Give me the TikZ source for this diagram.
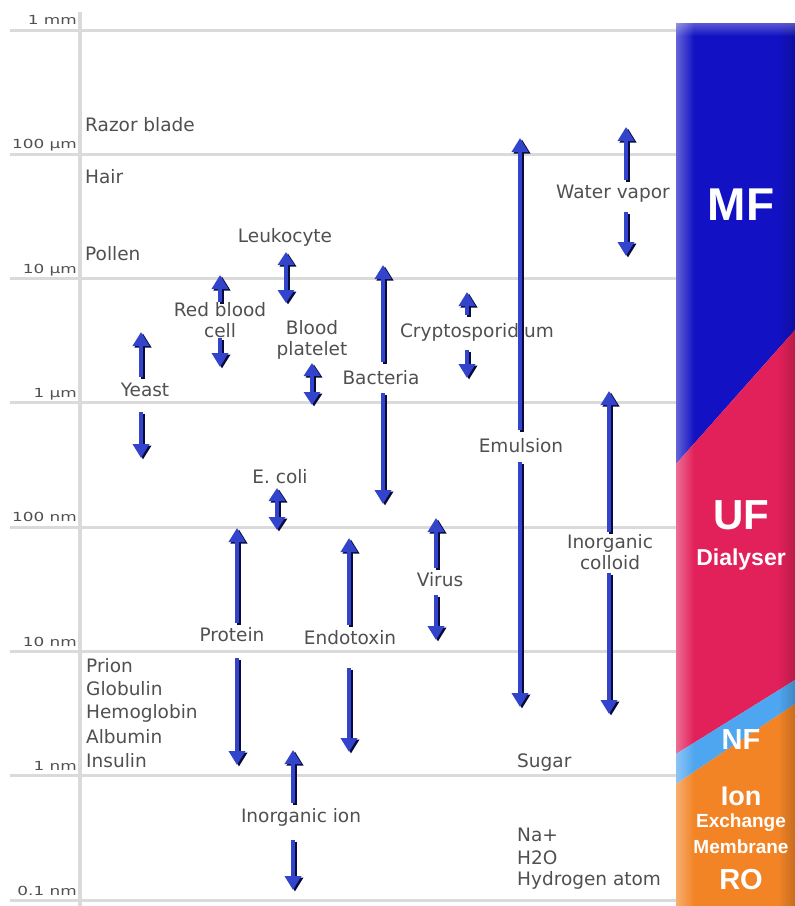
\documentclass[tikz,border=0pt]{standalone}
\usepackage{fontspec}
\setmainfont{DejaVu Sans}
\newfontfamily\barfont{Liberation Sans}
\usetikzlibrary{arrows.meta,fadings}
\definecolor{gridc}{HTML}{DADADA}
\definecolor{txtc}{HTML}{505050}
\definecolor{arrowc}{HTML}{3344CC}
\definecolor{shadowc}{HTML}{0A0A3A}
\definecolor{mfblue}{HTML}{1212C4}
\definecolor{ufred}{HTML}{E2215A}
\definecolor{nfblue}{HTML}{4FA6F0}
\definecolor{roor}{HTML}{F28426}
\tikzset{
  gridl/.style={draw=gridc, line width=3pt},
  lbl/.style={text=txtc, font=\fontsize{18.5}{21}\selectfont, inner sep=0pt, align=center},
  axl/.style={text=txtc, font=\fontsize{12.5}{14}\selectfont, inner sep=0pt},
  barl/.style={text=white, font=\barfont\bfseries, inner sep=0pt, align=center},
  arrbase/.style={line width=4.5pt, -{Triangle[length=14pt,width=16pt]}},
  darrbase/.style={line width=4.5pt, {Triangle[length=13pt,width=16pt]}-{Triangle[length=13pt,width=16pt]}},
  shad/.style={draw=shadowc, transform canvas={xshift=2pt,yshift=-1.5pt}},
  fg/.style={draw=arrowc}
}
\newcommand\oneArrow[2]{\draw[arrbase,shad] (#1) -- (#2); \draw[arrbase,fg] (#1) -- (#2);}
\newcommand\twoArrow[2]{\draw[darrbase,shad] (#1) -- (#2); \draw[darrbase,fg] (#1) -- (#2);}
\begin{document}
\begin{tikzpicture}[x=1pt,y=-1pt]
\useasboundingbox (0,0) rectangle (795,906);
\fill[white] (0,0) rectangle (795,906);
% axis and grid
\draw[draw=gridc, line width=4pt] (80,12) -- (80,906);
\foreach \yy in {30,154.3,278.6,402.9,527.2,651.5,775.8,900} {
  \draw[gridl] (10,\yy) -- (676,\yy);
}
% axis labels
\node[axl, anchor=base east] (a1) at (77,24) {\scalebox{1.35}[1]{1 mm}};
\node[axl, anchor=base east] (a2) at (77,148) {\scalebox{1.35}[1]{100 µm}};
\node[axl, anchor=base east] (a3) at (77,273) {\scalebox{1.35}[1]{10 µm}};
\node[axl, anchor=base east] (a4) at (77,397) {\scalebox{1.35}[1]{1 µm}};
\node[axl, anchor=base east] (a5) at (77,521) {\scalebox{1.35}[1]{100 nm}};
\node[axl, anchor=base east] (a6) at (77,646) {\scalebox{1.35}[1]{10 nm}};
\node[axl, anchor=base east] (a7) at (77,770) {\scalebox{1.35}[1]{1 nm}};
\node[axl, anchor=base east] (a8) at (77,895) {\scalebox{1.35}[1]{0.1 nm}};
% left labels
\node[lbl, anchor=west] (razor) at (85,125) {Razor blade};
\node[lbl, anchor=west] (hair) at (85,177) {Hair};
\node[lbl, anchor=west] (pollen) at (85,254) {Pollen};
\node[lbl, anchor=west] (prion) at (86,666) {Prion};
\node[lbl, anchor=west] (glob) at (86,689) {Globulin};
\node[lbl, anchor=west] (hemo) at (86,713) {Hemoglobin};
\node[lbl, anchor=west] (albu) at (86,737) {Albumin};
\node[lbl, anchor=west] (insu) at (86,761) {Insulin};
\node[lbl, anchor=west] (sugar) at (517,763) {Sugar};
\node[lbl, anchor=west] (na) at (517,835) {Na+};
\node[lbl, anchor=west] (h2o) at (517,858) {H2O};
\node[lbl, anchor=west] (hatom) at (517,880) {Hydrogen atom};
% Yeast
\node[lbl] (yeast) at (145,390) {Yeast};
\coordinate (yeastA) at (141,377); \coordinate (yeastT) at (141,332);
\coordinate (yeastB) at (141,412); \coordinate (yeastD) at (141,458);
\oneArrow{yeastA}{yeastT} \oneArrow{yeastB}{yeastD}
% Red blood cell
\node[lbl] (rbc) at (220,320) {Red blood\\cell};
\coordinate (rbcA) at (220,302); \coordinate (rbcT) at (220,275);
\coordinate (rbcB) at (220,338); \coordinate (rbcD) at (220,367);
\oneArrow{rbcA}{rbcT} \oneArrow{rbcB}{rbcD}
% Leukocyte
\node[lbl] (leuko) at (285,237) {Leukocyte};
\coordinate (leukoT) at (286,252); \coordinate (leukoD) at (286,303);
\twoArrow{leukoT}{leukoD}
% Blood platelet
\node[lbl] (plate) at (312,340) {Blood\\platelet};
\coordinate (plateT) at (312,363); \coordinate (plateD) at (312,405);
\twoArrow{plateT}{plateD}
% Bacteria
\node[lbl] (bact) at (381,378) {Bacteria};
\coordinate (bactA) at (383,362); \coordinate (bactT) at (383,265);
\coordinate (bactB) at (383,393); \coordinate (bactD) at (383,504);
\oneArrow{bactA}{bactT} \oneArrow{bactB}{bactD}
% Cryptosporidium
\node[lbl] (crypto) at (477,332) {Cryptosporidium};
\coordinate (cryA) at (467,315); \coordinate (cryT) at (467,292);
\coordinate (cryB) at (467,350); \coordinate (cryD) at (467,378);
\oneArrow{cryA}{cryT} \oneArrow{cryB}{cryD}
% Emulsion
\node[lbl] (emul) at (521,446) {Emulsion};
\coordinate (emA) at (520,430); \coordinate (emT) at (520,138);
\coordinate (emB) at (520,462); \coordinate (emD) at (520,707);
\oneArrow{emA}{emT} \oneArrow{emB}{emD}
% Water vapor
\node[lbl] (water) at (613,194) {Water vapor};
\coordinate (wvA) at (626,180); \coordinate (wvT) at (626,127);
\coordinate (wvB) at (626,212); \coordinate (wvD) at (626,256);
\oneArrow{wvA}{wvT} \oneArrow{wvB}{wvD}
% E. coli
\node[lbl] (ecoli) at (280,477) {E. coli};
\coordinate (ecT) at (277,488); \coordinate (ecD) at (277,530);
\twoArrow{ecT}{ecD}
% Protein
\node[lbl] (prot) at (232,635) {Protein};
\coordinate (prA) at (237,623); \coordinate (prT) at (237,528);
\coordinate (prB) at (237,658); \coordinate (prD) at (237,765);
\oneArrow{prA}{prT} \oneArrow{prB}{prD}
% Endotoxin
\node[lbl] (endo) at (350,638) {Endotoxin};
\coordinate (enA) at (349,625); \coordinate (enT) at (349,538);
\coordinate (enB) at (349,668); \coordinate (enD) at (349,752);
\oneArrow{enA}{enT} \oneArrow{enB}{enD}
% Virus
\node[lbl] (virus) at (440,580) {Virus};
\coordinate (viA) at (436,568); \coordinate (viT) at (436,518);
\coordinate (viB) at (436,595); \coordinate (viD) at (436,640);
\oneArrow{viA}{viT} \oneArrow{viB}{viD}
% Inorganic colloid
\node[lbl] (icol) at (610,552) {Inorganic\\colloid};
\coordinate (icA) at (609,532); \coordinate (icT) at (609,391);
\coordinate (icB) at (609,573); \coordinate (icD) at (609,714);
\oneArrow{icA}{icT} \oneArrow{icB}{icD}
% Inorganic ion
\node[lbl] (iion) at (301,817) {Inorganic ion};
\coordinate (iiA) at (293,803); \coordinate (iiT) at (293,750);
\coordinate (iiB) at (293,840); \coordinate (iiD) at (293,890);
\oneArrow{iiA}{iiT} \oneArrow{iiB}{iiD}
% right bar
\fill[mfblue] (676,23) -- (795,23) -- (795,330) -- (676,464) -- cycle;
\fill[ufred] (676,464) -- (795,330) -- (795,680) -- (676,754) -- cycle;
\fill[nfblue] (676,754) -- (795,680) -- (795,704) -- (676,784) -- cycle;
\fill[roor] (676,784) -- (795,704) -- (795,906) -- (676,906) -- cycle;
\fill[white, path fading=east, fill opacity=0.35] (676,23) rectangle (694,906);
\fill[black, path fading=west, fill opacity=0.18] (778,23) rectangle (795,906);
\fill[white, path fading=south, fill opacity=0.3] (676,23) rectangle (795,36);
% bar labels
\node[barl, font=\barfont\bfseries\fontsize{46}{50}\selectfont] (mf) at (741,205) {MF};
\node[barl, font=\barfont\bfseries\fontsize{42}{46}\selectfont] (uf) at (741,515) {UF};
\node[barl, font=\barfont\bfseries\fontsize{23}{26}\selectfont] (dial) at (741,560) {Dialyser};
\node[barl, font=\barfont\bfseries\fontsize{29}{32}\selectfont] (nf) at (741,740) {NF};
\node[barl, font=\barfont\bfseries\fontsize{27}{30}\selectfont] (ion) at (741,796) {Ion};
\node[barl, font=\barfont\bfseries\fontsize{19}{22}\selectfont] (exch) at (741,823) {Exchange};
\node[barl, font=\barfont\bfseries\fontsize{19}{22}\selectfont] (memb) at (741,847) {Membrane};
\node[barl, font=\barfont\bfseries\fontsize{29}{32}\selectfont] (ro) at (741,880) {RO};
\end{tikzpicture}
\end{document}
